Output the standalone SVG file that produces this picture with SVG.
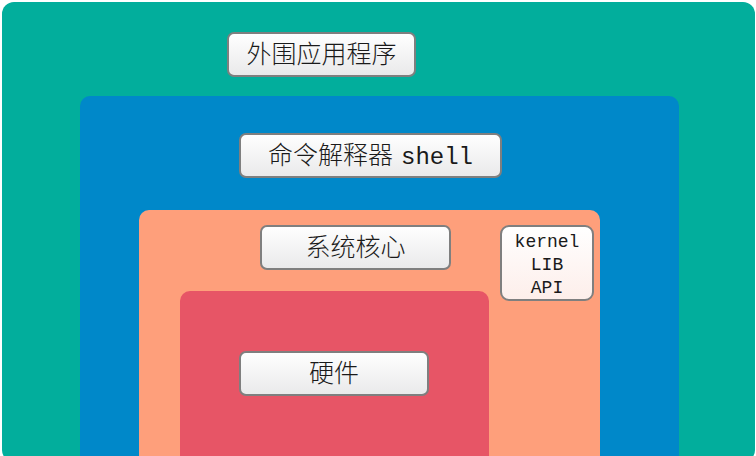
<svg xmlns="http://www.w3.org/2000/svg" width="756" height="456" viewBox="0 0 756 456">
  <defs>
    <linearGradient id="labelFill" x1="0" y1="0" x2="0" y2="1">
      <stop offset="0" stop-color="#ffffff"/>
      <stop offset="1" stop-color="#e9e9ea"/>
    </linearGradient>
    <linearGradient id="apiFill" x1="0" y1="0" x2="0" y2="1">
      <stop offset="0" stop-color="#ffffff"/>
      <stop offset="1" stop-color="#fdeeea"/>
    </linearGradient>
    <style>
      .label { fill: url(#labelFill); stroke: #7f7f7f; stroke-width: 2; }
      .api { fill: url(#apiFill); stroke: #7f7f7f; stroke-width: 2; }
      .cjk { font-family: "Noto Sans CJK SC", "Noto Sans CJK JP", sans-serif; font-size: 25px; font-weight: 300; fill: #1a1a1a; text-anchor: middle; }
      .mono { font-family: "Liberation Mono", "DejaVu Sans Mono", monospace; fill: #1a1a1a; }
      .api-text { font-family: "Liberation Mono", "DejaVu Sans Mono", monospace; font-size: 18px; fill: #1a1a1a; text-anchor: middle; }
    </style>
  </defs>

  <rect width="756" height="456" fill="#ffffff"/>

  <!-- nested layers -->
  <g id="layer-apps">
    <rect x="2" y="2" width="753" height="460" rx="12" fill="#02ae9c"/>
  </g>
  <g id="layer-shell">
    <rect x="80" y="96" width="599" height="370" rx="10" fill="#0088c9"/>
  </g>
  <g id="layer-kernel">
    <rect x="139" y="210" width="461" height="260" rx="10" fill="#fe9f7b"/>
  </g>
  <g id="layer-hardware">
    <rect x="180" y="291" width="309" height="175" rx="10" fill="#e75566"/>
  </g>

  <!-- labels -->
  <g id="label-apps">
    <rect class="label" x="228" y="33" width="187" height="43" rx="6"/>
    <text class="cjk" x="321.5" y="63">外围应用程序</text>
  </g>
  <g id="label-shell">
    <rect class="label" x="240" y="134" width="261" height="43" rx="6"/>
    <text class="cjk" x="370.5" y="164"><tspan>命令解释器</tspan><tspan class="mono" font-size="24" dx="8">shell</tspan></text>
  </g>
  <g id="label-kernel">
    <rect class="label" x="261" y="226" width="189" height="43" rx="6"/>
    <text class="cjk" x="355.5" y="256">系统核心</text>
  </g>
  <g id="label-api">
    <rect class="api" x="501" y="226" width="92" height="74" rx="8"/>
    <text class="api-text" x="547" y="247">kernel</text>
    <text class="api-text" x="547" y="270">LIB</text>
    <text class="api-text" x="547" y="293">API</text>
  </g>
  <g id="label-hardware">
    <rect class="label" x="240" y="352" width="188" height="43" rx="6"/>
    <text class="cjk" x="334" y="382">硬件</text>
  </g>

  <!-- no connectors in this diagram -->
  <g id="connectors"/>
</svg>
